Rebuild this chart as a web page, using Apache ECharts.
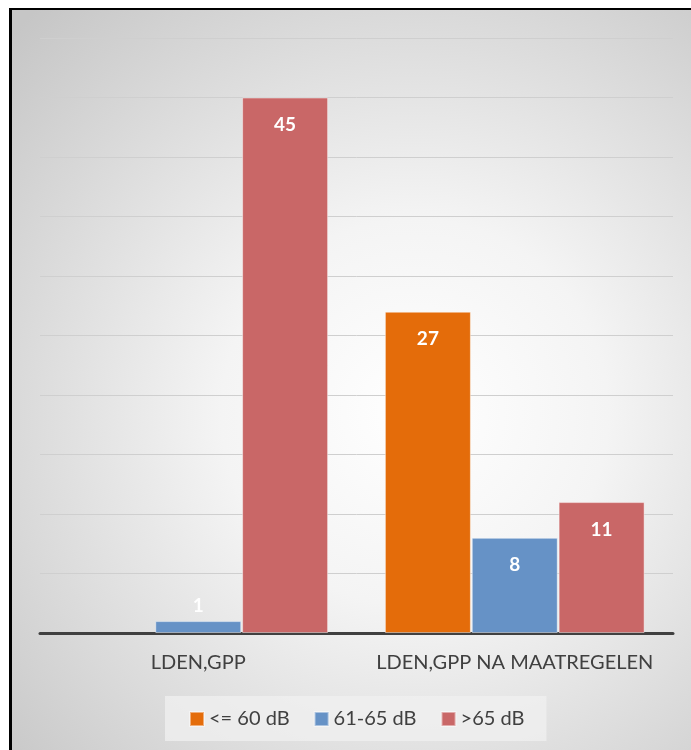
<!DOCTYPE html>
<html>
<head>
<meta charset="utf-8">
<script src="https://cdn.jsdelivr.net/npm/echarts@6/dist/echarts.min.js"></script>
<style>
html,body{margin:0;padding:0;background:#fff;}
#c{width:691px;height:750px;}
</style>
</head>
<body>
<div id="c"></div>
<script>
var categories = ['LDEN,GPP', 'LDEN,GPP NA MAATREGELEN'];
var seriesNames = ['<= 60 dB', '61-65 dB', '>65 dB'];
var low = [0, 27];
var mid = [1, 8];
var high = [45, 11];
var yMin = 0, yMax = 50, yStep = 5;

var colors = ['#E46C0A', '#6692C6', '#C96767'];
var font = 'Lato, "Open Sans", sans-serif';

function mkData(arr) {
  return arr.map(function (v) {
    if (v === 0) {
      return { value: v, itemStyle: { borderWidth: 0 } };
    }
    if (v > 0 && v < 3) {
      return { value: v, label: { position: 'top', distance: 6 } };
    }
    return v;
  });
}

function mkSeries(name, arr, color) {
  return {
    name: name,
    type: 'bar',
    data: mkData(arr),
    barWidth: 86,
    barGap: '1%',
    itemStyle: { color: color, borderColor: 'rgba(255,255,255,0.45)', borderWidth: 1 },
    label: {
      show: true,
      position: 'insideTop',
      distance: 18,
      color: '#ffffff',
      fontFamily: font,
      fontWeight: 'bold',
      fontSize: 19,
      formatter: function (p) { return p.value === 0 ? '' : String(p.value); }
    }
  };
}

var chart = echarts.init(document.getElementById('c'), null, { renderer: 'canvas' });
chart.setOption({
  animation: false,
  backgroundColor: {
    type: 'radial', x: 0.6, y: 0.55, r: 0.8,
    colorStops: [
      { offset: 0, color: '#ffffff' },
      { offset: 0.35, color: '#f4f4f4' },
      { offset: 1, color: '#c6c6c6' }
    ]
  },
  graphic: [
    { type: 'rect', shape: { x: 0, y: 0, width: 691, height: 8 }, style: { fill: '#ffffff' }, silent: true },
    { type: 'rect', shape: { x: 0, y: 0, width: 9, height: 750 }, style: { fill: '#ffffff' }, silent: true },
    { type: 'rect', shape: { x: 9, y: 8, width: 682, height: 2 }, style: { fill: '#000000' }, silent: true },
    { type: 'rect', shape: { x: 9, y: 8, width: 3, height: 742 }, style: { fill: '#000000' }, silent: true }
  ],
  grid: { left: 40, right: 18, top: 38, bottom: 117, containLabel: false },
  legend: {
    data: seriesNames,
    left: 165,
    top: 696,
    padding: [13, 22, 12, 24],
    backgroundColor: 'rgba(240,240,240,0.75)',
    itemWidth: 14,
    itemHeight: 14,
    itemGap: 24,
    icon: 'rect',
    textStyle: { fontSize: 20, color: '#404040', fontFamily: font }
  },
  xAxis: {
    type: 'category',
    data: categories,
    axisLine: { show: true, lineStyle: { color: '#404040', width: 3 } },
    axisTick: { show: false },
    axisLabel: { interval: 0, fontSize: 20, color: '#404040', fontFamily: font, margin: 20 }
  },
  yAxis: {
    type: 'value',
    min: yMin,
    max: yMax,
    interval: yStep,
    axisLine: { show: false },
    axisTick: { show: false },
    axisLabel: { show: false },
    splitLine: { lineStyle: { color: '#cfcfcf', width: 1 } }
  },
  series: [
    mkSeries(seriesNames[0], low, colors[0]),
    mkSeries(seriesNames[1], mid, colors[1]),
    mkSeries(seriesNames[2], high, colors[2])
  ]
});
</script>
</body>
</html>
